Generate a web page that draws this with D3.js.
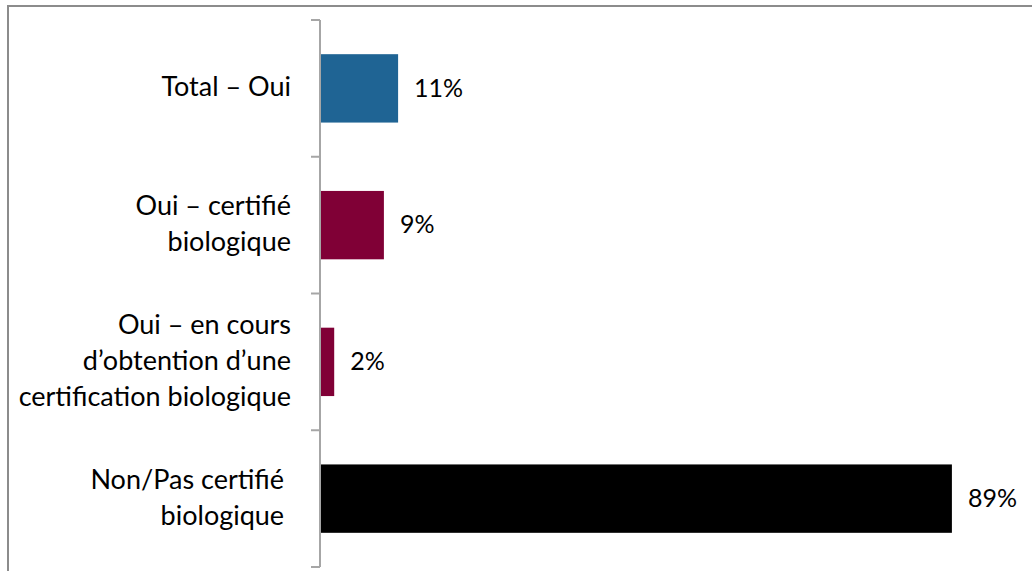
<!DOCTYPE html>
<html>
<meta charset="utf-8">
<script src="https://d3js.org/d3.v7.min.js"></script>
<style>
  body { margin: 0; background: #fff; }
  text { font-family: Lato, "Liberation Sans", sans-serif; fill: #000; }
</style>
<body>
<script>

// values
var categories = ["Total – Oui", "Oui – certifié biologique", "Oui – en cours d’obtention d’une certification biologique", "Non/Pas certifié biologique"];
var labelLines = [["Total – Oui"], ["Oui – certifié", "biologique"], ["Oui – en cours", "d’obtention d’une", "certification biologique"], ["Non/Pas certifié ", "biologique "]];
var values = [11, 9, 2, 89];
var colors = ["#1f6494", "#800036", "#800036", "#000000"];

var width = 1032, height = 571;
var axisX = 320;

var svg = d3.select("body").append("svg")
  .attr("width", width)
  .attr("height", height);

// outer frame (right and bottom fall outside the picture)
svg.append("rect")
  .attr("x", 8).attr("y", 6)
  .attr("width", 1040).attr("height", 600)
  .attr("fill", "none")
  .attr("stroke", "#8c8c8c")
  .attr("stroke-width", 2);

var y = d3.scaleBand()
  .domain(categories)
  .range([20, 567])
  .paddingInner(0.5)
  .paddingOuter(0.25);

var x = d3.scaleLinear()
  .domain([0, 100])
  .range([axisX, axisX + 710]);

// bars
svg.selectAll("rect.bar")
  .data(values)
  .enter().append("rect")
  .attr("class", "bar")
  .attr("x", x(0))
  .attr("y", function(d, i) { return y(categories[i]); })
  .attr("width", function(d) { return x(d) - x(0); })
  .attr("height", y.bandwidth())
  .attr("fill", function(d, i) { return colors[i]; });

// value labels
svg.selectAll("text.val")
  .data(values)
  .enter().append("text")
  .attr("class", "val")
  .attr("x", function(d) { return x(d) + 16; })
  .attr("y", function(d, i) { return y(categories[i]) + y.bandwidth() / 2; })
  .attr("dy", "0.33em")
  .style("font-size", "25px")
  .text(function(d) { return d + "%"; });

// category axis: line + ticks on band boundaries
var step = y.step();
var ticks = d3.range(categories.length + 1).map(function(i) { return 20 + i * step; });
svg.append("line")
  .attr("x1", axisX).attr("x2", axisX)
  .attr("y1", 20).attr("y2", 567)
  .attr("stroke", "#a6a6a6").attr("stroke-width", 2);
svg.selectAll("line.tick")
  .data(ticks)
  .enter().append("line")
  .attr("class", "tick")
  .attr("x1", axisX - 9).attr("x2", axisX)
  .attr("y1", function(d) { return d; })
  .attr("y2", function(d) { return d; })
  .attr("stroke", "#a6a6a6").attr("stroke-width", 2);

// category labels
var fs = 27, lineH = 36;
var lbl = svg.selectAll("text.cat")
  .data(categories)
  .enter().append("text")
  .attr("class", "cat")
  .attr("text-anchor", "end")
  .style("font-size", fs + "px")
  .style("white-space", "pre")
  .attr("y", function(d) { return y(d) + y.bandwidth() / 2; });

lbl.each(function(d, i) {
  var lines = labelLines[i];
  var t = d3.select(this);
  lines.forEach(function(s, j) {
    t.append("tspan")
      .attr("x", 291)
      .attr("dy", j == 0 ? ((-(lines.length - 1) / 2) * lineH / fs + 0.3) + "em" : lineH + "px")
      .text(s);
  });
});

</script>
</body>
</html>
